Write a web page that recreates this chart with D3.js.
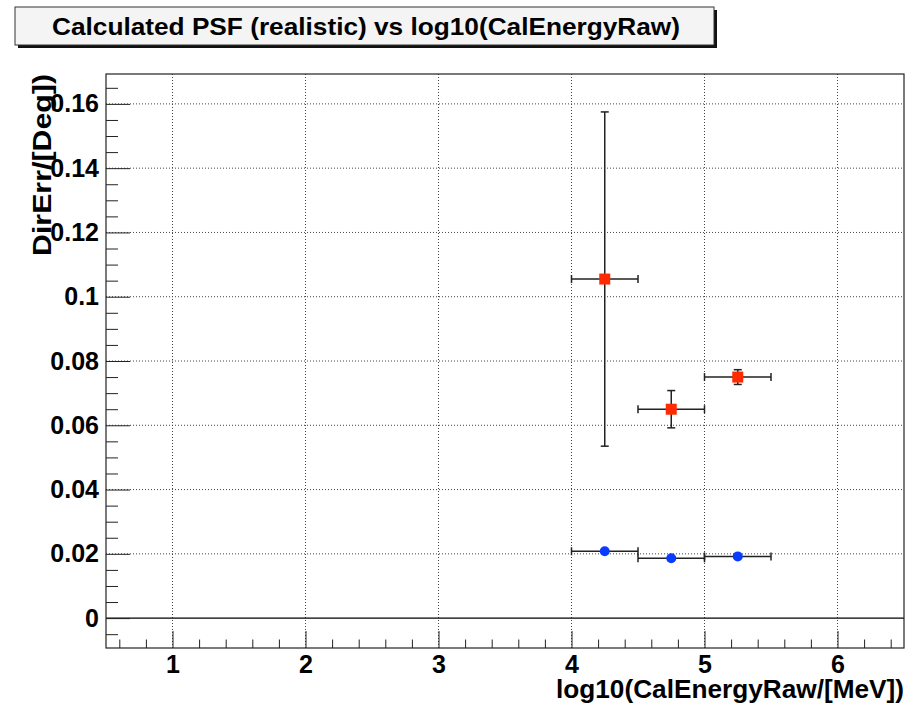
<!DOCTYPE html>
<html>
<head>
<meta charset="utf-8">
<script src="https://cdn.jsdelivr.net/npm/d3@7"></script>
<style>
  body { margin: 0; background: #fff; }
  text { font-family: "Liberation Sans", Arial, sans-serif; font-weight: bold; }
</style>
</head>
<body>
<div id="chart"></div>
<script>
// data
var xCenters = [4.25, 4.75, 5.25];
var xErr = [0.25, 0.25, 0.25];
var redVal = [0.1055, 0.0650, 0.0750];
var redErr = [0.0520, 0.0058, 0.0023];
var blueVal = [0.0208, 0.0186, 0.0192];
var blueErr = [0, 0, 0];

var xTicks = [1, 2, 3, 4, 5, 6];
var yTicks = [0, 0.02, 0.04, 0.06, 0.08, 0.1, 0.12, 0.14, 0.16];
var yTickLabels = ["0", "0.02", "0.04", "0.06", "0.08", "0.1", "0.12", "0.14", "0.16"];

var titleText = "Calculated PSF (realistic) vs log10(CalEnergyRaw)";
var xTitle = "log10(CalEnergyRaw/[MeV])";
var yTitle = "DirErr/[Deg])";

var W = 917, H = 708;
var frame = {left: 106, right: 904, top: 74, bottom: 648};

var svg = d3.select("#chart").append("svg")
    .attr("width", W)
    .attr("height", H);

var x = d3.scaleLinear().domain([0.5, 6.5]).range([frame.left, frame.right]);
var y = d3.scaleLinear().domain([-0.0093, 0.1693]).range([frame.bottom, frame.top]);

// grid
svg.append("g").selectAll("line.gx")
  .data(xTicks).enter().append("line")
    .attr("x1", function(d) { return x(d); })
    .attr("x2", function(d) { return x(d); })
    .attr("y1", frame.top).attr("y2", frame.bottom)
    .attr("stroke", "#444").attr("stroke-dasharray", "1,2");
svg.append("g").selectAll("line.gy")
  .data(yTicks.filter(function(d) { return d > 0; })).enter().append("line")
    .attr("y1", function(d) { return y(d); })
    .attr("y2", function(d) { return y(d); })
    .attr("x1", frame.left).attr("x2", frame.right)
    .attr("stroke", "#444").attr("stroke-dasharray", "1,2");

// zero line
svg.append("line")
    .attr("x1", frame.left).attr("x2", frame.right)
    .attr("y1", y(0)).attr("y2", y(0))
    .attr("stroke", "#000").attr("stroke-width", 1.2);

// X axis (ticks pointing inward)
var xMinor = d3.range(6, 66, 2).map(function(d) { return d / 10; }).filter(function(d) { return d % 1 !== 0; });
svg.append("g")
    .attr("transform", "translate(0," + frame.bottom + ")")
    .call(d3.axisBottom(x).tickValues(xMinor).tickSize(-8.5).tickFormat(""))
    .call(function(g) { g.select(".domain").remove(); });
var xAxis = svg.append("g")
    .attr("transform", "translate(0," + frame.bottom + ")")
    .call(d3.axisBottom(x).tickValues(xTicks).tickSize(-17).tickPadding(7).tickFormat(d3.format("d")));
xAxis.select(".domain").remove();
xAxis.selectAll("text").attr("fill", "#000").attr("font-size", 25).attr("dy", "0.71em");

// Y axis
var yMinor = d3.range(-5, 170, 5).map(function(d) { return d / 1000; }).filter(function(d) { return Math.round(d * 1000) % 20 !== 0; });
svg.append("g")
    .attr("transform", "translate(" + frame.left + ",0)")
    .call(d3.axisLeft(y).tickValues(yMinor).tickSize(-12).tickFormat(""))
    .call(function(g) { g.select(".domain").remove(); });
var yAxis = svg.append("g")
    .attr("transform", "translate(" + frame.left + ",0)")
    .call(d3.axisLeft(y).tickValues(yTicks).tickSize(-24).tickPadding(7)
      .tickFormat(function(d, i) { return yTickLabels[i]; }));
yAxis.select(".domain").remove();
yAxis.selectAll("text").attr("fill", "#000").attr("font-size", 25);

svg.selectAll(".tick line").attr("stroke", "#222");

// frame
svg.append("rect")
    .attr("x", frame.left).attr("y", frame.top)
    .attr("width", frame.right - frame.left).attr("height", frame.bottom - frame.top)
    .attr("fill", "none").attr("stroke", "#222").attr("stroke-width", 1.2);

// error bars
var cap = 4;
function errBars(vals, yerr, withYCaps) {
  var g = svg.append("g").attr("stroke", "#222").attr("stroke-width", 1.5);
  vals.forEach(function(v, i) {
    var cx = x(xCenters[i]), cy = y(v);
    var x0 = x(xCenters[i] - xErr[i]), x1 = x(xCenters[i] + xErr[i]);
    g.append("line").attr("x1", x0).attr("x2", x1).attr("y1", cy).attr("y2", cy);
    g.append("line").attr("x1", x0).attr("x2", x0).attr("y1", cy - cap).attr("y2", cy + cap);
    g.append("line").attr("x1", x1).attr("x2", x1).attr("y1", cy - cap).attr("y2", cy + cap);
    if (yerr[i] > 0) {
      var y0 = y(v - yerr[i]), y1 = y(v + yerr[i]);
      g.append("line").attr("x1", cx).attr("x2", cx).attr("y1", y0).attr("y2", y1);
      if (withYCaps) {
        g.append("line").attr("x1", cx - cap).attr("x2", cx + cap).attr("y1", y0).attr("y2", y0);
        g.append("line").attr("x1", cx - cap).attr("x2", cx + cap).attr("y1", y1).attr("y2", y1);
      }
    }
  });
}
errBars(redVal, redErr, true);
errBars(blueVal, blueErr, true);

// markers
svg.append("g").selectAll("rect")
  .data(redVal).enter().append("rect")
    .attr("x", function(d, i) { return x(xCenters[i]) - 5.5; })
    .attr("y", function(d) { return y(d) - 5.5; })
    .attr("width", 11).attr("height", 11)
    .attr("fill", "#ff2a00");
svg.append("g").selectAll("circle")
  .data(blueVal).enter().append("circle")
    .attr("cx", function(d, i) { return x(xCenters[i]); })
    .attr("cy", function(d) { return y(d); })
    .attr("r", 5)
    .attr("fill", "#0a3cff");

// axis titles
svg.append("text")
    .attr("x", frame.right).attr("y", 698)
    .attr("text-anchor", "end")
    .attr("font-size", 25)
    .attr("textLength", 348).attr("lengthAdjust", "spacingAndGlyphs")
    .text(xTitle);
svg.append("text")
    .attr("transform", "translate(51," + frame.top + ") rotate(-90)")
    .attr("text-anchor", "end")
    .attr("font-size", 25)
    .attr("textLength", 182).attr("lengthAdjust", "spacingAndGlyphs")
    .text(yTitle);

// title box
svg.append("rect")
    .attr("x", 18).attr("y", 10).attr("width", 699).attr("height", 38)
    .attr("fill", "#111");
svg.append("rect")
    .attr("x", 15).attr("y", 7).attr("width", 699).attr("height", 38)
    .attr("fill", "#f4f4f4").attr("stroke", "#333").attr("stroke-width", 1);
svg.append("text")
    .attr("x", 366).attr("y", 35)
    .attr("text-anchor", "middle")
    .attr("font-size", 24)
    .attr("textLength", 628).attr("lengthAdjust", "spacingAndGlyphs")
    .text(titleText);
</script>
</body>
</html>
